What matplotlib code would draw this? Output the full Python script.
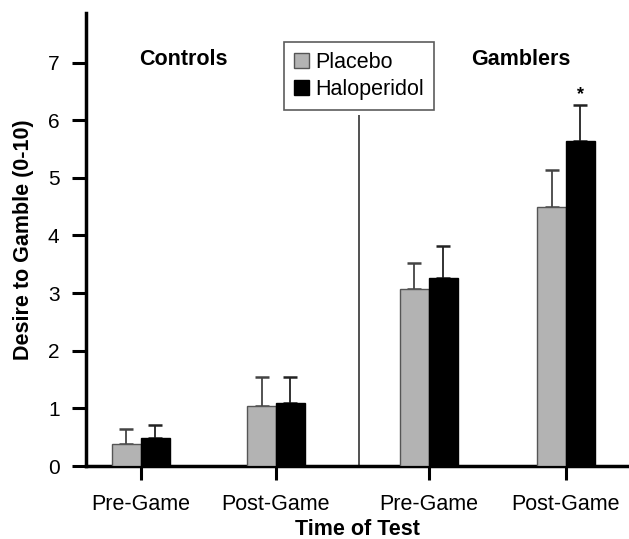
import numpy as np
import matplotlib.pyplot as plt

plt.rcParams['font.family'] = ['Liberation Sans', 'DejaVu Sans']

# data
groups = ["Pre-Game", "Post-Game", "Pre-Game", "Post-Game"]
x_pos = np.array([0.0, 0.985, 2.10, 3.10])
placebo = [0.38, 1.05, 3.07, 4.50]
placebo_err = [0.26, 0.49, 0.45, 0.64]
haloperidol = [0.48, 1.10, 3.26, 5.64]
haloperidol_err = [0.24, 0.44, 0.56, 0.62]
bar_w = 0.21

fig = plt.figure(figsize=(6.29, 5.39), dpi=100)
ax = fig.add_axes([0.1367, 0.1354, 0.8633, 0.8405])

ax.bar(x_pos - bar_w / 2, placebo, bar_w, color="#b3b3b3", edgecolor="#555555",
       linewidth=1, label="Placebo", zorder=3)
ax.bar(x_pos + bar_w / 2, haloperidol, bar_w, color="black", edgecolor="black",
       linewidth=1, label="Haloperidol", zorder=3)
ax.errorbar(x_pos - bar_w / 2, placebo, yerr=[np.zeros(4), placebo_err], fmt="none",
            ecolor="#444444", elinewidth=1.3, capsize=5, capthick=1.8, zorder=2)
ax.errorbar(x_pos + bar_w / 2, haloperidol, yerr=[np.zeros(4), haloperidol_err], fmt="none",
            ecolor="#222222", elinewidth=1.3, capsize=5, capthick=1.8, zorder=2)

# significance marker
ax.text(x_pos[3] + bar_w / 2, haloperidol[3] + haloperidol_err[3] + 0.04, "*",
        ha="center", va="bottom", fontsize=13, fontweight="bold")

ax.set_xlim(-0.40, 3.56)
ax.set_ylim(0, 7.86)
ax.set_yticks(range(8))
ax.set_xticks(x_pos)
ax.set_xticklabels(groups, fontsize=15.5)
ax.tick_params(axis="y", labelsize=15, length=10, width=2.2, direction="out", pad=9)
ax.tick_params(axis="x", length=10, width=2.2, direction="out", pad=10)

for s in ["top", "right"]:
    ax.spines[s].set_visible(False)
ax.spines["left"].set_linewidth(2.5)
ax.spines["bottom"].set_linewidth(2.5)

ax.set_ylabel("Desire to Gamble (0-10)", fontsize=15.5, fontweight="bold", labelpad=10)
ax.set_xlabel("Time of Test", fontsize=15.5, fontweight="bold", labelpad=3)

ax.text(0.31, 7.06, "Controls", ha="center", va="center", fontsize=15.5, fontweight="bold")
ax.text(2.77, 7.06, "Gamblers", ha="center", va="center", fontsize=15.5, fontweight="bold")

# divider between groups, hanging from legend box
ax.vlines(1.59, 0, 6.09, color="#333333", linewidth=1.2, zorder=1)

leg = ax.legend(loc="upper left", bbox_to_anchor=(0.365, 0.936), fontsize=15.5,
                frameon=True, fancybox=False, edgecolor="#333333",
                handlelength=0.7, handleheight=0.7, handletextpad=0.3,
                borderpad=0.45, labelspacing=0.3, borderaxespad=0)
leg.get_frame().set_linewidth(1.2)

fig.savefig("out.png", dpi=100)
